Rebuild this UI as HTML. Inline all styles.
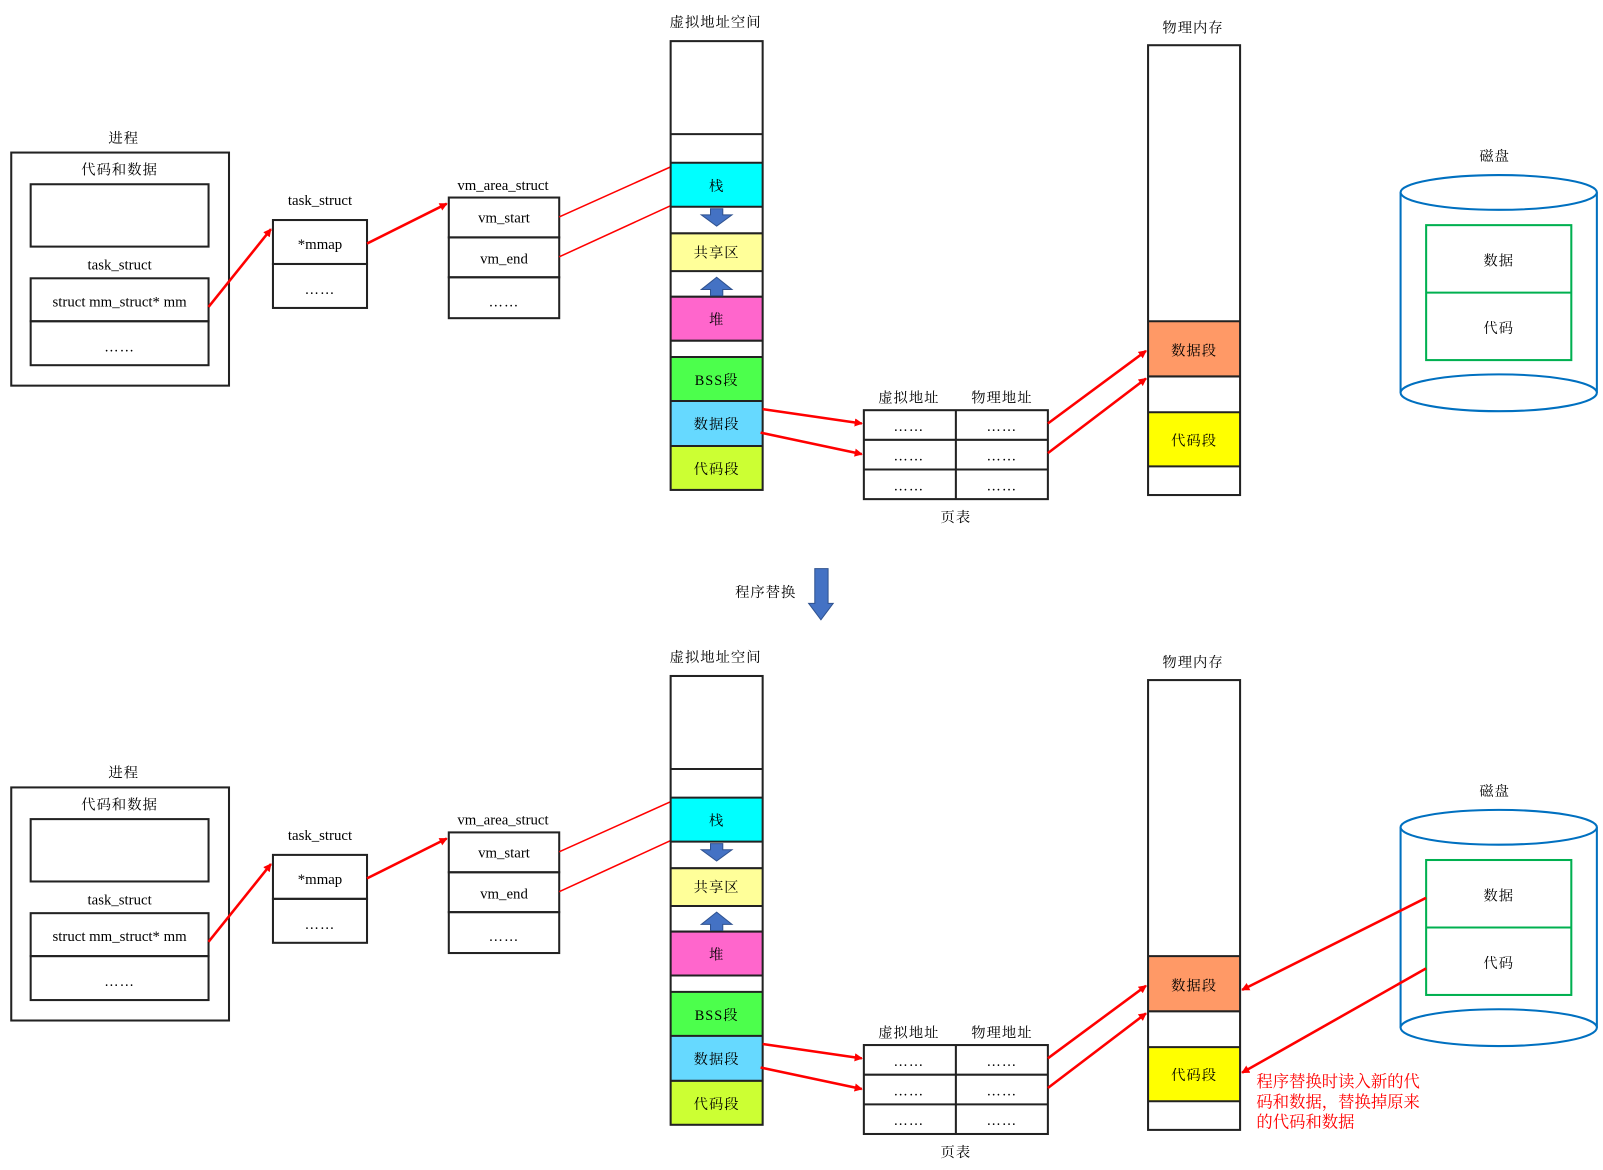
<!DOCTYPE html>
<html><head><meta charset="utf-8"><style>
html,body{margin:0;padding:0;background:#fff;}
svg{display:block}
.c{font-family:"Liberation Serif","Noto Serif CJK SC",serif;font-size:14px;fill:#000;text-anchor:middle;dominant-baseline:central;letter-spacing:1px}
.l{font-family:"Liberation Serif","Noto Serif CJK SC",serif;font-size:14.5px;fill:#000;text-anchor:middle;dominant-baseline:central}
.b{fill:none;stroke:#222;stroke-width:2}
.r{stroke:#f00;stroke-width:2.5;fill:none}
.rt{stroke:#f00;stroke-width:1.5;fill:none}
.t{transform:translateY(1.5px)}
</style></head><body>
<svg width="1603" height="1170" viewBox="0 0 1568 1144" xmlns="http://www.w3.org/2000/svg">
<defs>
<marker id="a" markerWidth="8" markerHeight="8" refX="7" refY="4" orient="auto" markerUnits="userSpaceOnUse"><path d="M0,0 L8,4 L0,8 Z" fill="#f00"/></marker>
</defs>

<g id="top">
<rect class="b" x="11" y="149" width="213" height="228"/>
<rect class="b" x="30" y="180" width="174" height="61"/>
<rect class="b" x="30" y="272" width="174" height="42"/>
<rect class="b" x="30" y="314" width="174" height="43"/>
<rect class="b" x="267" y="215" width="92" height="43"/>
<rect class="b" x="267" y="258" width="92" height="43"/>
<rect class="b" x="439" y="193" width="108" height="39"/>
<rect class="b" x="439" y="232" width="108" height="39"/>
<rect class="b" x="439" y="271" width="108" height="40"/>
<line class="r" x1="204" y1="300" x2="265" y2="224" marker-end="url(#a)"/>
<line class="r" x1="359" y1="238" x2="437" y2="199" marker-end="url(#a)"/>
<line class="rt" x1="547" y1="212" x2="656" y2="163"/>
<line class="rt" x1="547" y1="251" x2="656" y2="201"/>
<rect x="656" y="40" width="90" height="439" fill="#fff"/>
<rect x="656" y="159" width="90" height="43" fill="#00ffff"/>
<rect x="656" y="228" width="90" height="37" fill="#ffff99"/>
<rect x="656" y="290" width="90" height="43" fill="#ff66cc"/>
<rect x="656" y="349" width="90" height="43" fill="#4cff4c"/>
<rect x="656" y="392" width="90" height="44" fill="#66d9ff"/>
<rect x="656" y="436" width="90" height="43" fill="#ccff33"/>
<path class="b" d="M656,131H746M656,159H746M656,202H746M656,228H746M656,265H746M656,290H746M656,333H746M656,349H746M656,392H746M656,436H746"/>
<rect class="b" x="656" y="40" width="90" height="439"/>
<path d="M695,204H707V210H716L701,221L686,210H695Z" fill="#4472c4" stroke="#2f528f" stroke-width="1"/>
<path d="M695,289H707V283H716L701,271L686,283H695Z" fill="#4472c4" stroke="#2f528f" stroke-width="1"/>
<rect class="b" x="845" y="401" width="180" height="87"/>
<path class="b" d="M935,401V488M845,430H1025M845,459H1025"/>
<line class="r" x1="746" y1="400" x2="843" y2="414" marker-end="url(#a)"/>
<line class="r" x1="744" y1="423" x2="843" y2="444" marker-end="url(#a)"/>
<line class="r" x1="1025" y1="414" x2="1121" y2="343" marker-end="url(#a)"/>
<line class="r" x1="1025" y1="443" x2="1121" y2="370" marker-end="url(#a)"/>
<rect x="1123" y="314" width="90" height="54" fill="#ff9966"/>
<rect x="1123" y="403" width="90" height="53" fill="#ffff00"/>
<path class="b" d="M1123,314H1213M1123,368H1213M1123,403H1213M1123,456H1213"/>
<rect class="b" x="1123" y="44" width="90" height="440"/>
<path d="M1370,188V384M1562,188V384" stroke="#0070c0" stroke-width="2" fill="none"/>
<ellipse cx="1466" cy="188" rx="96" ry="17" fill="#fff" stroke="#0070c0" stroke-width="2"/>
<path d="M1370,384A96,18 0 0,0 1562,384A96,18 0 0,0 1370,384" fill="#fff" stroke="#0070c0" stroke-width="2"/>
<rect x="1395" y="220" width="142" height="132" fill="none" stroke="#00b050" stroke-width="2"/>
<line x1="1395" y1="286" x2="1537" y2="286" stroke="#00b050" stroke-width="2"/>
<g class="t">
<text class="c" x="121" y="134">进程</text>
<text class="c" x="117" y="165">代码和数据</text>
<text class="l" x="117" y="258">task_struct</text>
<text class="l" x="117" y="294">struct mm_struct* mm</text>
<text class="c" x="117" y="338">……</text>
<text class="l" x="313" y="195">task_struct</text>
<text class="l" x="313" y="238">*mmap</text>
<text class="c" x="313" y="282">……</text>
<text class="l" x="492" y="180">vm_area_struct</text>
<text class="l" x="493" y="212">vm_start</text>
<text class="l" x="493" y="252">vm_end</text>
<text class="c" x="493" y="294">……</text>
<text class="c" x="700" y="21">虚拟地址空间</text>
<text class="c" x="701" y="181">栈</text>
<text class="c" x="701" y="246">共享区</text>
<text class="c" x="701" y="312">堆</text>
<text class="c" x="701" y="371">BSS段</text>
<text class="c" x="701" y="414">数据段</text>
<text class="c" x="701" y="458">代码段</text>
<text class="c" x="889" y="388">虚拟地址</text>
<text class="c" x="980" y="388">物理地址</text>
<text class="c" x="889" y="416">……</text><text class="c" x="980" y="416">……</text>
<text class="c" x="889" y="445">……</text><text class="c" x="980" y="445">……</text>
<text class="c" x="889" y="474">……</text><text class="c" x="980" y="474">……</text>
<text class="c" x="935" y="505">页表</text>
<text class="c" x="1167" y="26">物理内存</text>
<text class="c" x="1168" y="342">数据段</text>
<text class="c" x="1168" y="430">代码段</text>
<text class="c" x="1462" y="152">磁盘</text>
<text class="c" x="1466" y="254">数据</text>
<text class="c" x="1466" y="320">代码</text>
</g>
</g>

<text class="c" x="749" y="580">程序替换</text>
<path d="M797,556H810V590H815L803,606L791,590H797Z" fill="#4472c4" stroke="#2f528f" stroke-width="1"/>

<g transform="translate(0,621)">
<rect class="b" x="11" y="149" width="213" height="228"/>
<rect class="b" x="30" y="180" width="174" height="61"/>
<rect class="b" x="30" y="272" width="174" height="42"/>
<rect class="b" x="30" y="314" width="174" height="43"/>
<rect class="b" x="267" y="215" width="92" height="43"/>
<rect class="b" x="267" y="258" width="92" height="43"/>
<rect class="b" x="439" y="193" width="108" height="39"/>
<rect class="b" x="439" y="232" width="108" height="39"/>
<rect class="b" x="439" y="271" width="108" height="40"/>
<line class="r" x1="204" y1="300" x2="265" y2="224" marker-end="url(#a)"/>
<line class="r" x1="359" y1="238" x2="437" y2="199" marker-end="url(#a)"/>
<line class="rt" x1="547" y1="212" x2="656" y2="163"/>
<line class="rt" x1="547" y1="251" x2="656" y2="201"/>
<rect x="656" y="40" width="90" height="439" fill="#fff"/>
<rect x="656" y="159" width="90" height="43" fill="#00ffff"/>
<rect x="656" y="228" width="90" height="37" fill="#ffff99"/>
<rect x="656" y="290" width="90" height="43" fill="#ff66cc"/>
<rect x="656" y="349" width="90" height="43" fill="#4cff4c"/>
<rect x="656" y="392" width="90" height="44" fill="#66d9ff"/>
<rect x="656" y="436" width="90" height="43" fill="#ccff33"/>
<path class="b" d="M656,131H746M656,159H746M656,202H746M656,228H746M656,265H746M656,290H746M656,333H746M656,349H746M656,392H746M656,436H746"/>
<rect class="b" x="656" y="40" width="90" height="439"/>
<path d="M695,204H707V210H716L701,221L686,210H695Z" fill="#4472c4" stroke="#2f528f" stroke-width="1"/>
<path d="M695,289H707V283H716L701,271L686,283H695Z" fill="#4472c4" stroke="#2f528f" stroke-width="1"/>
<rect class="b" x="845" y="401" width="180" height="87"/>
<path class="b" d="M935,401V488M845,430H1025M845,459H1025"/>
<line class="r" x1="746" y1="400" x2="843" y2="414" marker-end="url(#a)"/>
<line class="r" x1="744" y1="423" x2="843" y2="444" marker-end="url(#a)"/>
<line class="r" x1="1025" y1="414" x2="1121" y2="343" marker-end="url(#a)"/>
<line class="r" x1="1025" y1="443" x2="1121" y2="370" marker-end="url(#a)"/>
<rect x="1123" y="314" width="90" height="54" fill="#ff9966"/>
<rect x="1123" y="403" width="90" height="53" fill="#ffff00"/>
<path class="b" d="M1123,314H1213M1123,368H1213M1123,403H1213M1123,456H1213"/>
<rect class="b" x="1123" y="44" width="90" height="440"/>
<path d="M1370,188V384M1562,188V384" stroke="#0070c0" stroke-width="2" fill="none"/>
<ellipse cx="1466" cy="188" rx="96" ry="17" fill="#fff" stroke="#0070c0" stroke-width="2"/>
<path d="M1370,384A96,18 0 0,0 1562,384A96,18 0 0,0 1370,384" fill="#fff" stroke="#0070c0" stroke-width="2"/>
<rect x="1395" y="220" width="142" height="132" fill="none" stroke="#00b050" stroke-width="2"/>
<line x1="1395" y1="286" x2="1537" y2="286" stroke="#00b050" stroke-width="2"/>
<line class="r" x1="1395" y1="257" x2="1215" y2="347" marker-end="url(#a)"/>
<line class="r" x1="1395" y1="326" x2="1215" y2="428" marker-end="url(#a)"/>
<g class="t">
<text class="c" x="121" y="134">进程</text>
<text class="c" x="117" y="165">代码和数据</text>
<text class="l" x="117" y="258">task_struct</text>
<text class="l" x="117" y="294">struct mm_struct* mm</text>
<text class="c" x="117" y="338">……</text>
<text class="l" x="313" y="195">task_struct</text>
<text class="l" x="313" y="238">*mmap</text>
<text class="c" x="313" y="282">……</text>
<text class="l" x="492" y="180">vm_area_struct</text>
<text class="l" x="493" y="212">vm_start</text>
<text class="l" x="493" y="252">vm_end</text>
<text class="c" x="493" y="294">……</text>
<text class="c" x="700" y="21">虚拟地址空间</text>
<text class="c" x="701" y="181">栈</text>
<text class="c" x="701" y="246">共享区</text>
<text class="c" x="701" y="312">堆</text>
<text class="c" x="701" y="371">BSS段</text>
<text class="c" x="701" y="414">数据段</text>
<text class="c" x="701" y="458">代码段</text>
<text class="c" x="889" y="388">虚拟地址</text>
<text class="c" x="980" y="388">物理地址</text>
<text class="c" x="889" y="416">……</text><text class="c" x="980" y="416">……</text>
<text class="c" x="889" y="445">……</text><text class="c" x="980" y="445">……</text>
<text class="c" x="889" y="474">……</text><text class="c" x="980" y="474">……</text>
<text class="c" x="935" y="505">页表</text>
<text class="c" x="1167" y="26">物理内存</text>
<text class="c" x="1168" y="342">数据段</text>
<text class="c" x="1168" y="430">代码段</text>
<text class="c" x="1462" y="152">磁盘</text>
<text class="c" x="1466" y="254">数据</text>
<text class="c" x="1466" y="320">代码</text>
<text x="1229" y="435" font-family="'Liberation Serif','Noto Serif CJK SC',serif" font-size="16" fill="#f00" dominant-baseline="central">程序替换时读入新的代</text>
<text x="1229" y="455" font-family="'Liberation Serif','Noto Serif CJK SC',serif" font-size="16" fill="#f00" dominant-baseline="central">码和数据，替换掉原来</text>
<text x="1229" y="475" font-family="'Liberation Serif','Noto Serif CJK SC',serif" font-size="16" fill="#f00" dominant-baseline="central">的代码和数据</text>
</g>
</g>
</svg>
</body></html>
